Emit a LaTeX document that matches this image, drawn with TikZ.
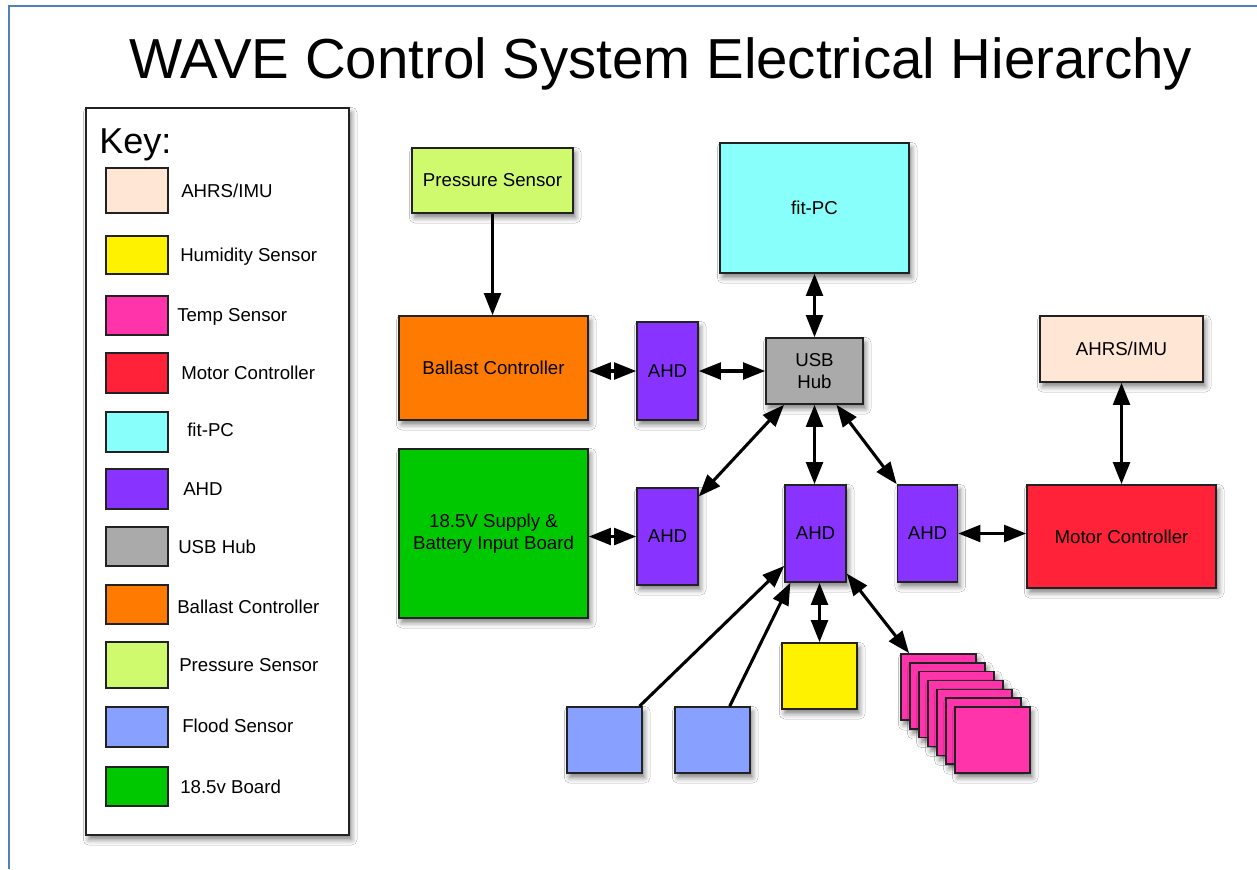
\documentclass[tikz,border=0pt]{standalone}
\usepackage{fontspec}
\setmainfont{Liberation Sans}
\usetikzlibrary{arrows.meta,shadows.blur}

\definecolor{cAHRS}{HTML}{FFE6D5}
\definecolor{cHum}{HTML}{FFF200}
\definecolor{cTemp}{HTML}{FF33AA}
\definecolor{cMotor}{HTML}{FF2238}
\definecolor{cFit}{HTML}{88FFFA}
\definecolor{cAHD}{HTML}{8833FF}
\definecolor{cUSB}{HTML}{AAAAAA}
\definecolor{cBallast}{HTML}{FF7A00}
\definecolor{cPress}{HTML}{D0FA6E}
\definecolor{cFlood}{HTML}{88A0FF}
\definecolor{cBoard}{HTML}{00C800}
\definecolor{boxline}{HTML}{222222}
\definecolor{frameblue}{HTML}{4F81BD}

\tikzset{
  sz/.style 2 args={minimum width=#1*0.75pt, minimum height=#2*0.75pt},
  shad/.style={blur shadow={shadow xshift=2pt, shadow yshift=-3.5pt, shadow blur radius=4pt, shadow opacity=50}},
  box/.style={draw=boxline, line width=1.2pt, inner sep=0pt, align=center,
    font=\fontsize{14}{16.5}\selectfont, shad},
  swatch/.style={draw=boxline, line width=1.2pt, inner sep=0pt, minimum width=46.5pt},
  keylabel/.style={anchor=base west, inner sep=0pt, font=\fontsize{14}{16.5}\selectfont},
  tip/.tip={Triangle[length=16.5pt,width=12.5pt]},
  conn/.style={line width=2.3pt, -tip},
  dconn/.style={line width=2.3pt, tip-tip},
}

\begin{document}
\begin{tikzpicture}[x=0.75pt, y=-0.75pt]
\useasboundingbox (0,0) rectangle (1257,869);
\fill[white] (0,0) rectangle (1257,869);

% frame
\draw[frameblue, line width=1.5pt] (9,869) -- (9,6) -- (1257,6);

% title
\node[anchor=base, inner sep=0pt, font=\fontsize{42.3}{50}\selectfont] (title) at (661,78) {WAVE Control System Electrical Hierarchy};

% legend
\node[draw=boxline, line width=1.2pt, fill=white, shad, inner sep=0pt, sz={263}{727}] (legend) at (217.5,471.5) {};
\node[anchor=base west, inner sep=0pt, font=\fontsize{27}{32}\selectfont] (key) at (99,153) {Key:};

\foreach \t/\b/\lx/\ly/\txt/\col [count=\i] in {
  168/213/181/191/AHRS\slash IMU/cAHRS,
  236/274/180/255/Humidity Sensor/cHum,
  296/335/177/315/Temp Sensor/cTemp,
  353/393/181/373/Motor Controller/cMotor,
  412/452/187/430/fit-PC/cFit,
  469/509/183/489/AHD/cAHD,
  527/566/178/547/USB Hub/cUSB,
  585/624/177/607/Ballast Controller/cBallast,
  642/688/179/665/Pressure Sensor/cPress,
  707/747/182/726/Flood Sensor/cFlood,
  767/806/180/787/18.5v Board/cBoard}{
  \node[swatch, fill=\col, minimum height={(\b-\t)*0.75pt}] (sw\i) at (137,{(\t+\b)/2}) {};
  \node[keylabel] (kl\i) at (\lx,{\ly+6.7}) {\txt};
}

% main nodes
\node[box, fill=cPress, sz={161}{65}] (press) at (492.5,180.5) {Pressure Sensor};
\node[box, fill=cFit, sz={189}{130}] (fitpc) at (814.5,208) {fit-PC};
\node[box, fill=cBallast, sz={189}{104}] (ballast) at (493.5,368) {Ballast Controller};
\node[box, fill=cAHD, sz={61}{98}] (ahd1) at (667.5,371) {AHD};
\node[box, fill=cUSB, sz={97}{66}] (usb) at (814.5,371) {USB\\Hub};
\node[box, fill=cAHRS, sz={163}{66}] (ahrs) at (1121.5,349) {AHRS/IMU};
\node[box, fill=cBoard, sz={189}{169}] (board) at (493.5,533.5) {18.5V Supply \&\\Battery Input Board};
\node[box, fill=cAHD, sz={61}{97}] (ahd2) at (667.5,536.5) {AHD};
\node[box, fill=cAHD, sz={61}{97}] (ahd3) at (815.5,533.5) {AHD};
\node[box, fill=cAHD, sz={60}{97}] (ahd4) at (927.5,533.5) {AHD};
\node[box, fill=cMotor, sz={189}{103}] (motor) at (1121.5,536.5) {Motor Controller};
\node[box, fill=cHum, sz={75}{66}] (hum) at (819.5,676) {};
\node[box, fill=cFlood, sz={75}{66}] (flood1) at (604.5,740) {};
\node[box, fill=cFlood, sz={75}{66}] (flood2) at (712.5,740) {};
\foreach \k in {0,...,6}{
  \node[box, fill=cTemp, sz={75}{66}] (t\k) at ({938.5+9*\k},{687+8.83*\k}) {};
}

% connectors
\draw[conn] (press.south) -- (press.south |- ballast.north);
\draw[dconn] (ahd1.west) -- (ahd1.west -| ballast.east);
\draw[dconn] (ahd1.east) -- (ahd1.east -| usb.west);
\draw[dconn] (fitpc.south) -- (usb.north);
\draw[dconn] (usb.228) -- (ahd2.52);
\draw[dconn] (usb.south) -- (usb.south |- ahd3.north);
\draw[dconn] (usb.303.5) -- (ahd4.north west);
\draw[dconn] (ahd2.west) -- (ahd2.west -| board.east);
\draw[dconn] (ahd4.east) -- (ahd4.east -| motor.west);
\draw[dconn] (ahrs.south) -- (ahrs.south |- motor.north);
\draw[conn] (flood1.44) -- (ahd3.226);
\draw[conn] (flood2.63) -- (ahd3.243);
\draw[dconn] (hum.north) -- (hum.north |- ahd3.south);
\draw[dconn] (ahd3.308) -- (t0.131);
\end{tikzpicture}
\end{document}
